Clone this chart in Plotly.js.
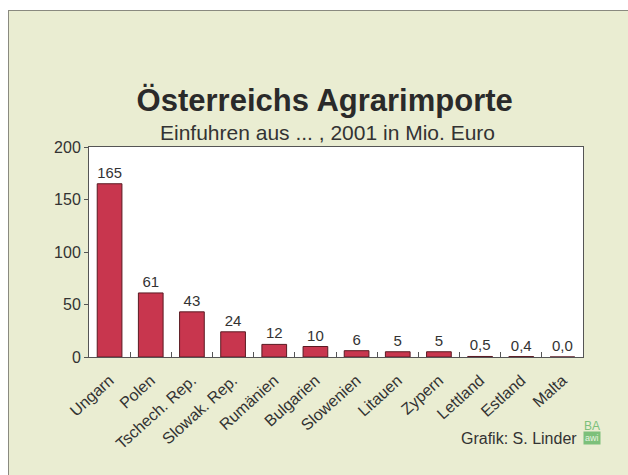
<!DOCTYPE html>
<html><head><meta charset="utf-8">
<script src="https://cdn.plot.ly/plotly-3.0.1.min.js"></script>
<style>
html,body{margin:0;padding:0;background:#ffffff;width:628px;height:475px;overflow:hidden;}
#frame{position:absolute;left:8px;top:10px;width:620px;height:465px;border-top:1px solid #8a8a80;border-left:1px solid #8a8a80;box-sizing:border-box;}
#chart{position:absolute;left:0;top:0;width:619px;height:464px;}
</style></head>
<body>
<div id="frame"><div id="chart"></div></div>
<script>
const countries = ["Ungarn","Polen","Tschech. Rep.","Slowak. Rep.","Rumänien","Bulgarien","Slowenien","Litauen","Zypern","Lettland","Estland","Malta"];
const imports = [165,61,43,24,12,10,6,5,5,0.5,0.4,0.0];
const valueLabels = ["165","61","43","24","12","10","6","5","5","0,5","0,4","0,0"];
const yTicks = [0,50,100,150,200];

const trace = {
  type:"bar", x:countries, y:imports, text:valueLabels,
  textposition:"outside", cliponaxis:false,
  textfont:{family:"Liberation Sans, Arial, sans-serif", size:15, color:"#333333"},
  marker:{color:"#c8364e", line:{color:"#5a1a22", width:1}},
  hoverinfo:"none"
};
const layout = {
  width:619, height:464,
  margin:{l:80, r:45, t:136, b:118},
  paper_bgcolor:"#eaedd2", plot_bgcolor:"#ffffff",
  bargap:0.4, showlegend:false,
  font:{family:"Liberation Sans, Arial, sans-serif", color:"#333333"},
  title:{text:"<b>Österreichs Agrarimporte</b>", x:0.51, xanchor:"center", y:0.807, yanchor:"middle", yref:"container",
         font:{size:31, color:"#2a2a2a"}},
  xaxis:{type:"category", tickangle:-42, tickfont:{size:16, color:"#333"}, showline:true, linecolor:"#555", linewidth:1,
         mirror:true, ticks:"inside", tickson:"boundaries", ticklen:5, tickcolor:"#555", showgrid:false, ticklabelstandoff:7},
  yaxis:{range:[0,200], tickvals:yTicks, ticktext:yTicks.map(String), tickfont:{size:16, color:"#333"}, showline:true, linecolor:"#555",
         mirror:true, ticks:"outside", ticklen:4, tickcolor:"#555", showgrid:false, zeroline:false},
  annotations:[
    {text:"Einfuhren aus ... , 2001 in Mio. Euro", xref:"paper", yref:"paper", x:0.482, y:1.07, xanchor:"center", yanchor:"middle",
     showarrow:false, font:{size:21, color:"#333"}},
    {text:"Grafik: S. Linder", xref:"paper", yref:"paper", x:0.992, y:-0.386, xanchor:"right", yanchor:"middle",
     showarrow:false, font:{size:16, color:"#333"}},
    {text:"BA", xref:"paper", yref:"paper", x:1.018, y:-0.329, xanchor:"center", yanchor:"middle",
     showarrow:false, font:{size:12, color:"#7cc07a"}},
    {text:"awi", xref:"paper", yref:"paper", x:1.018, y:-0.386, xanchor:"center", yanchor:"middle",
     showarrow:false, bgcolor:"#7cc07a", borderpad:1, font:{size:9, color:"#e8f4e0"}}
  ]
};
Plotly.newPlot("chart",[trace],layout,{displayModeBar:false, staticPlot:true});
</script>
</body></html>
